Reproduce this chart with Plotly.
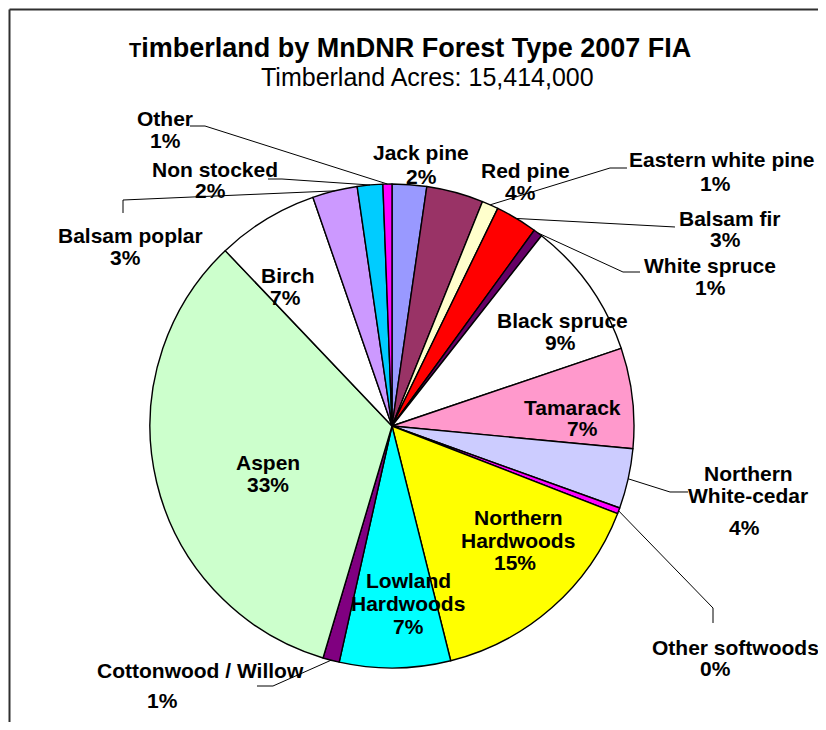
import math
import plotly.graph_objects as go

# La pagina tiene 8px de margen en el body: se corrige desplazando todo
MARGEN = 8
ANCHO, ALTO = 826 - MARGEN, 730 - 2 * MARGEN

# Datos (porcentaje de la superficie de timberland)
tipos = ["Jack pine", "Red pine", "Eastern white pine", "Balsam fir", "White spruce",
         "Black spruce", "Tamarack", "Northern<br>White-cedar", "Other softwoods",
         "Northern<br>Hardwoods", "Lowland<br>Hardwoods", "Cottonwood / Willow", "Aspen",
         "Birch", "Balsam poplar", "Non stocked", "Other"]
porcentajes = [2.3, 3.8, 1.1, 2.8, 0.6, 9.2, 6.7, 4.0, 0.4,
               15.2, 7.4, 1.1, 33.3, 6.8, 3.0, 1.7, 0.6]
colores = ["#9999FF", "#993366", "#FFFFCC", "#FF0000", "#660066",
           "#FFFFFF", "#FF99CC", "#CCCCFF", "#FF00FF",
           "#FFFF00", "#00FFFF", "#800080", "#CCFFCC",
           "#FFFFFF", "#CC99FF", "#00CCFF", "#FF00FF"]

titulo = "Timberland by MnDNR Forest Type 2007 FIA"
subtitulo = "Timberland Acres: 15,414,000"

# Geometria del pastel en pixeles (coordenadas de la ventana)
cx, cy, R = 392, 426, 242

# Posicion (pixeles) de cada linea de texto: nombre(s) y porcentaje
pos_textos = {
    "Jack pine": [(421, 153), (422, 176)],
    "Red pine": [(525, 171), (520, 193)],
    "Eastern white pine": [(722, 159), (715, 183)],
    "Balsam fir": [(730, 218), (725, 240)],
    "White spruce": [(710, 265), (710, 288)],
    "Black spruce": [(562, 320), (560, 342)],
    "Tamarack": [(572, 407), (582, 428)],
    "Northern<br>White-cedar": [(748, 473), (748, 495), (744, 527)],
    "Other softwoods": [(735, 647), (715, 668)],
    "Northern<br>Hardwoods": [(518, 517), (518, 540), (515, 562)],
    "Lowland<br>Hardwoods": [(408, 580), (408, 603), (408, 626)],
    "Cottonwood / Willow": [(200, 670), (162, 700)],
    "Aspen": [(268, 462), (268, 484)],
    "Birch": [(288, 275), (285, 297)],
    "Balsam poplar": [(130, 236), (125, 257)],
    "Non stocked": [(215, 170), (210, 191)],
    "Other": [(165, 118), (165, 140)],
}

# Puntos de codo de las lineas guia (desde el texto hacia la porcion)
guias = {
    "Other": [(190, 126), (205, 126)],
    "Non stocked": [(268, 179), (282, 179)],
    "Balsam poplar": [(123, 213), (123, 200)],
    "Eastern white pine": [(627, 168), (610, 168)],
    "Balsam fir": [(675, 227)],
    "White spruce": [(640, 272), (623, 272)],
    "Northern<br>White-cedar": [(688, 492), (670, 492)],
    "Other softwoods": [(713, 623), (713, 608)],
    "Cottonwood / Willow": [(257, 686), (273, 686)],
}


def px(x, y):
    return (x - MARGEN) / ANCHO, 1 - (y - MARGEN) / ALTO


total = sum(porcentajes)
fig = go.Figure()
dx0, dy1 = px(cx - R, cy - R)
dx1, dy0 = px(cx + R, cy + R)
fig.add_trace(go.Pie(labels=tipos, values=porcentajes, sort=False, direction="clockwise",
                     rotation=0, textinfo="none", hoverinfo="label+percent",
                     marker=dict(colors=colores, line=dict(color="#000000", width=1.4)),
                     domain=dict(x=[dx0, dx1], y=[dy0, dy1]),
                     showlegend=False))

fuente = dict(family="Arial, Liberation Sans, sans-serif", size=21, color="#000000")
anotaciones = []
shapes = []
acumulado = 0
for nombre, valor in zip(tipos, porcentajes):
    medio = (acumulado + valor / 2) / total
    acumulado += valor
    lineas = nombre.split("<br>") + [f"{round(valor / total * 100):.0f}%"]
    for texto, (x, y) in zip(lineas, pos_textos[nombre]):
        xp, yp = px(x, y)
        anotaciones.append(dict(text=f"<b>{texto}</b>", x=xp, y=yp, xref="paper", yref="paper",
                                xanchor="center", yanchor="middle", showarrow=False, font=fuente))
    if nombre in guias:
        ang = 2 * math.pi * medio
        punta = (cx + R * math.sin(ang), cy - R * math.cos(ang))
        puntos = [px(*p) for p in guias[nombre] + [punta]]
        path = "M " + " L ".join(f"{a:.5f},{b:.5f}" for a, b in puntos)
        shapes.append(dict(type="path", path=path, xref="paper", yref="paper",
                           line=dict(color="#000000", width=1)))

# Titulos
xt, yt = px(410, 48)
anotaciones.append(dict(text="<b><span style='font-size:20px'>" + titulo[0] + "</span>" + titulo[1:] + "</b>",
                        x=xt, y=yt, xref="paper", yref="paper", showarrow=False,
                        xanchor="center", yanchor="middle",
                        font=dict(family="Arial, Liberation Sans, sans-serif", size=27, color="#000000")))
xs, ys = px(427, 77)
anotaciones.append(dict(text=subtitulo, x=xs, y=ys, xref="paper", yref="paper", showarrow=False,
                        xanchor="center", yanchor="middle",
                        font=dict(family="Arial, Liberation Sans, sans-serif", size=25, color="#000000")))

# Marco del grafico (izquierda, arriba, derecha)
fx0, fy0 = px(9.5, 9.5)
fx1, _ = px(821, 9.5)
for xa, ya, xb, yb in [(fx0, -0.02, fx0, fy0), (fx0, fy0, fx1, fy0), (fx1, fy0, fx1, -0.02)]:
    shapes.append(dict(type="line", xref="paper", yref="paper", x0=xa, y0=ya, x1=xb, y1=yb,
                       line=dict(color="#303030", width=2)))

fig.update_layout(width=ANCHO, height=ALTO, margin=dict(l=0, r=0, t=0, b=0),
                  paper_bgcolor="#FFFFFF", plot_bgcolor="#FFFFFF",
                  annotations=anotaciones, shapes=shapes)

fig.write_html("out.html")
